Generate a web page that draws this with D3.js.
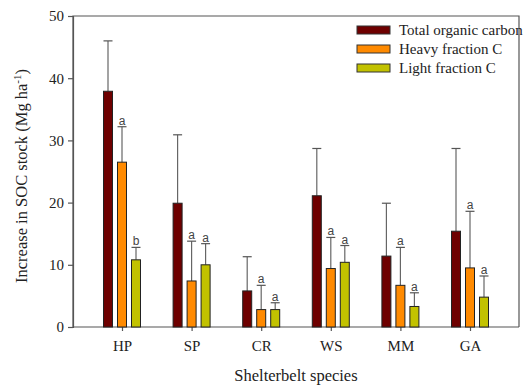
<!DOCTYPE html>
<html><head><meta charset="utf-8">
<script src="https://cdn.jsdelivr.net/npm/d3@7"></script>
<style>body{margin:0;background:#fff}svg{display:block}</style>
</head><body><svg id="c" width="531" height="387"></svg>
<script>
const categories = ["HP","SP","CR","WS","MM","GA"];
const seriesNames = ["Total organic carbon","Heavy fraction C","Light fraction C"];
const totalC = [37.9, 19.9, 5.8, 21.1, 11.4, 15.4];
const totalErr = [46.0, 30.9, 11.3, 28.7, 19.9, 28.7];
const heavyC = [26.5, 7.4, 2.8, 9.4, 6.7, 9.5];
const heavyErr = [32.2, 13.8, 6.7, 14.4, 12.8, 18.6];
const lightC = [10.8, 10.0, 2.8, 10.4, 3.3, 4.8];
const lightErr = [12.8, 13.4, 3.9, 13.1, 5.5, 8.2];
const heavyLetters = ["a","a","a","a","a","a"];
const lightLetters = ["b","a","a","a","a","a"];
const yTicks = [0,10,20,30,40,50];
const colors = ["#6e0000","#ff8a00","#c2c200"];

const svg = d3.select("#c");
const L=73, R=519, T=16, B=327;
const x = d3.scalePoint().domain(categories).range([L,R]).padding(0.704);
const y = d3.scaleLinear().domain([0,50]).range([B,T]);
const serif = "'Liberation Serif','Times New Roman',serif";
const axisCol = "#555";

svg.append("path").attr("d",`M${L},${B}V${T}H${R}V${B}`).attr("fill","none").attr("stroke",axisCol).attr("stroke-width",1.2);

const yAx = svg.append("g").attr("transform",`translate(${L},0)`)
  .call(d3.axisLeft(y).tickValues(yTicks).tickSize(5).tickPadding(4));
const xAx = svg.append("g").attr("transform",`translate(0,${B})`)
  .call(d3.axisBottom(x).tickSize(4).tickPadding(9));
xAx.select(".domain").attr("d",`M${L},0H${R}`);
[yAx,xAx].forEach(g=>{
  g.selectAll("path,line").attr("stroke",axisCol).attr("stroke-width",1.2);
  g.selectAll("text").attr("font-family",serif).attr("font-size",15).attr("fill","#222");
});

const series = [
  {v:totalC,e:totalErr,letters:null},
  {v:heavyC,e:heavyErr,letters:heavyLetters},
  {v:lightC,e:lightErr,letters:lightLetters}
];
const offsets = d3.scalePoint().domain([0,1,2]).range([-14,14]);
const bw = 9;
series.forEach((s,si)=>{
  const g = svg.append("g");
  categories.forEach((c,i)=>{
    const cx = x(c)+offsets(si);
    g.append("line").attr("x1",cx).attr("x2",cx).attr("y1",y(s.v[i])).attr("y2",y(s.e[i]))
      .attr("stroke","#666").attr("stroke-width",1.2);
    g.append("line").attr("x1",cx-4.5).attr("x2",cx+4.5).attr("y1",y(s.e[i])).attr("y2",y(s.e[i]))
      .attr("stroke","#555").attr("stroke-width",1.2);
    g.append("rect").attr("x",cx-bw/2).attr("width",bw).attr("y",y(s.v[i])).attr("height",B-y(s.v[i]))
      .attr("fill",colors[si]).attr("stroke","#222").attr("stroke-width",1);
    if(s.letters){
      g.append("text").attr("x",cx).attr("y",y(s.e[i])-2).attr("text-anchor","middle")
        .attr("font-family","'Liberation Sans',Arial,sans-serif").attr("font-size",12).attr("fill","#444")
        .text(s.letters[i]);
    }
  });
});

const lg = svg.append("g");
seriesNames.forEach((n,i)=>{
  const yy = 30 + i*19;
  lg.append("rect").attr("x",357).attr("y",yy-4).attr("width",33).attr("height",8)
    .attr("fill",colors[i]).attr("stroke","#333").attr("stroke-width",1);
  lg.append("text").attr("x",399).attr("y",yy+5).attr("font-family",serif).attr("font-size",15)
    .attr("fill","#222").text(n);
});

svg.append("text").attr("x",296).attr("y",381).attr("text-anchor","middle")
  .attr("font-family",serif).attr("font-size",16.5).attr("fill","#222").text("Shelterbelt species");
const yt = svg.append("text").attr("transform","translate(27,176) rotate(-90)").attr("text-anchor","middle")
  .attr("font-family",serif).attr("font-size",16.5).attr("fill","#222");
yt.append("tspan").text("Increase in SOC stock (Mg ha");
yt.append("tspan").attr("dy",-6).attr("font-size",11).text("-1");
yt.append("tspan").attr("dy",6).text(")");
</script></body></html>
